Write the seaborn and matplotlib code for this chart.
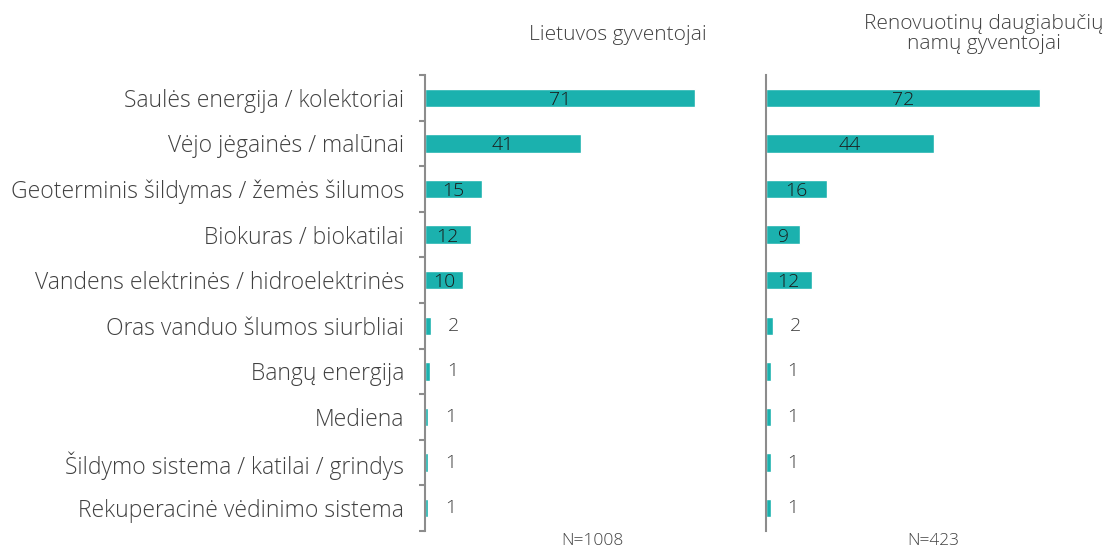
import matplotlib
matplotlib.use("Agg")
import matplotlib.pyplot as plt
import pandas as pd
import seaborn as sns

# data
categories = [
    "Saulės energija / kolektoriai",
    "Vėjo jėgainės / malūnai",
    "Geoterminis šildymas / žemės šilumos",
    "Biokuras / biokatilai",
    "Vandens elektrinės / hidroelektrinės",
    "Oras vanduo šlumos siurbliai",
    "Bangų energija",
    "Mediena",
    "Šildymo sistema / katilai / grindys",
    "Rekuperacinė vėdinimo sistema",
]
lietuva = [71, 41, 15, 12, 10, 1.6, 1.4, 0.8, 0.8, 0.8]
renovuoti = [72, 44, 16, 9, 12, 1.8, 1.3, 1.3, 1.3, 1.3]
titles = ["Lietuvos gyventojai", "Renovuotinų daugiabučių\nnamų gyventojai"]
sample_sizes = ["N=1008", "N=423"]

BAR = "#1BB1AE"
AXIS = "#8C8C8C"
TEXT = "#404040"

sns.set_theme(style="white")
plt.rcParams["font.family"] = ["Open Sans", "DejaVu Sans"]

fig = plt.figure(figsize=(11.06, 5.5), dpi=100)
ax1 = fig.add_axes([425 / 1106, 1 - 531 / 550, 335 / 1106, 456 / 550])
ax2 = fig.add_axes([766 / 1106, 1 - 531 / 550, 335 / 1106, 456 / 550])

for ax, vals, title, n, title_x, title_y in [
    (ax1, lietuva, titles[0], sample_sizes[0], 0.575, 1.065),
    (ax2, renovuoti, titles[1], sample_sizes[1], 0.65, 1.045),
]:
    df = pd.DataFrame({"cat": categories, "val": vals})
    sns.barplot(data=df, x="val", y="cat", color=BAR, width=0.4,
                saturation=1, ax=ax, orient="h")
    ax.set_xlim(0, 88)
    ax.set_ylim(9.5, -0.5)
    ax.set_xlabel("")
    ax.set_ylabel("")
    ax.set_xticks([])
    for s in ["top", "right", "bottom"]:
        ax.spines[s].set_visible(False)
    ax.spines["left"].set_color(AXIS)
    ax.spines["left"].set_linewidth(1.5)

    bars = ax.containers[0]
    inside = [f"{v:.0f}" if v >= 5 else "" for v in vals]
    outside = [f"{v:.0f}" if v < 5 else "" for v in vals]
    txts = ax.bar_label(bars, labels=inside, label_type="center", fontsize=14,
                        color="#1A1A1A", fontweight="light")
    for t in txts:
        t.set_va("center_baseline")
    ax.bar_label(bars, labels=outside, label_type="edge", padding=12,
                 fontsize=14, color=TEXT, fontweight="light")

    ax.text(title_x, title_y, title, transform=ax.transAxes, ha="center",
            va="bottom", fontsize=15, color=TEXT, fontweight="light",
            linespacing=1.05)
    ax.text(0.5, -0.005, n, transform=ax.transAxes, ha="center", va="top",
            fontsize=12.5, color=TEXT, fontweight="light")

# left panel: category labels and separator ticks
ax1.set_yticks(range(len(categories)))
ax1.set_yticklabels(categories, fontsize=16.5, color=TEXT, fontweight="light")
ax1.set_yticks([i - 0.5 for i in range(len(categories) + 1)], minor=True)
ax1.tick_params(axis="y", which="major", length=0, pad=15)
ax1.tick_params(axis="y", which="minor", length=4.5, width=1.5, color=AXIS,
                left=True)

# right panel: plain axis line
ax2.set_yticks([])

fig.savefig("out.png", dpi=100)
